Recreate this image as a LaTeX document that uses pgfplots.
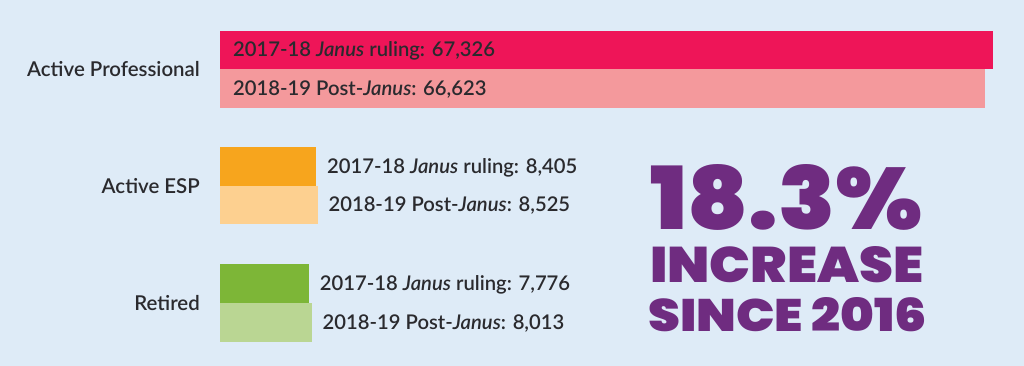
\documentclass[border=0pt]{standalone}
\usepackage{pgfplots}
\pgfplotsset{compat=1.18}
\usepackage{fontspec}
\IfFontExistsTF{Lato Semibold}{%
  \IfFontExistsTF{Lato Semibold Italic}{%
    \setmainfont{Lato Semibold}[ItalicFont={Lato Semibold Italic}]}{%
    \setmainfont{Lato Semibold}}}{%
  \setmainfont{Lato}[FakeBold=0.5]}
\newfontfamily\heavy{Poppins}[UprightFont=* Black]
\definecolor{bg}{HTML}{DEEBF7}
\definecolor{apA}{HTML}{EE1558}
\definecolor{apB}{HTML}{F4999C}
\definecolor{espA}{HTML}{F7A51D}
\definecolor{espB}{HTML}{FDD090}
\definecolor{retA}{HTML}{7DB637}
\definecolor{retB}{HTML}{BAD693}
\definecolor{purp}{HTML}{6F2C80}
\definecolor{txt}{HTML}{2A2A2E}
\begin{document}
\begin{tikzpicture}
\begin{axis}[
  width=1024bp, height=366bp, scale only axis,
  xmin=-19160, xmax=70025, ymin=0, ymax=366, y dir=reverse,
  axis line style={draw=none}, xtick=\empty, ytick=\empty,
  axis background/.style={fill=bg},
  clip=false,
  every node near coord/.style={anchor=base west, inner sep=0pt, xshift=10.5bp, yshift=-7bp, font=\fontsize{20.3}{22}\selectfont, text=txt},
]
\addplot[xbar, bar shift=0pt, bar width=38.5, fill=apA, draw=none] coordinates {(67326,50)};
\addplot[xbar, bar shift=0pt, bar width=38.5, fill=apB, draw=none] coordinates {(66623,88.5)};
\addplot[xbar, bar shift=0pt, bar width=38.5, fill=espA, draw=none, nodes near coords={2017-18 \textit{Janus} ruling: 8,405}] coordinates {(8405,166.5)};
\addplot[xbar, bar shift=0pt, bar width=38.5, fill=espB, draw=none, nodes near coords={2018-19 Post-\textit{Janus}: 8,525}] coordinates {(8525,205)};
\addplot[xbar, bar shift=0pt, bar width=38.5, fill=retA, draw=none, nodes near coords={2017-18 \textit{Janus} ruling: 7,776}] coordinates {(7776,283.5)};
\addplot[xbar, bar shift=0pt, bar width=38.5, fill=retB, draw=none, nodes near coords={2018-19 Post-\textit{Janus}: 8,013}] coordinates {(8013,322.5)};
\node[anchor=base west, inner sep=0pt, font=\fontsize{20.3}{22}\selectfont, text=txt] at (axis cs:0,50) [xshift=13bp, yshift=-7bp] {2017-18 \textit{Janus} ruling: 67,326};
\node[anchor=base west, inner sep=0pt, font=\fontsize{20.3}{22}\selectfont, text=txt] at (axis cs:0,88.5) [xshift=13bp, yshift=-7bp] {2018-19 Post-\textit{Janus}: 66,623};
\node[anchor=base east, inner sep=0pt, font=\fontsize{20.5}{22}\selectfont, text=txt] at (axis cs:0,69.5) [xshift=-20bp, yshift=-7bp] {Active Professional};
\node[anchor=base east, inner sep=0pt, font=\fontsize{20.5}{22}\selectfont, text=txt] at (axis cs:0,186) [xshift=-20bp, yshift=-7bp] {Active ESP};
\node[anchor=base east, inner sep=0pt, font=\fontsize{20.5}{22}\selectfont, text=txt] at (axis cs:0,303) [xshift=-20bp, yshift=-7bp] {Retired};
\end{axis}
\node[anchor=base west, inner sep=0pt, text=purp] at ([xshift=650bp, yshift=-230bp]current axis.north west) {\resizebox{272bp}{65bp}{\heavy 18.3\%}};
\node[anchor=base west, inner sep=0pt, text=purp] at ([xshift=650bp, yshift=-283bp]current axis.north west) {\resizebox{273bp}{36bp}{\heavy INCREASE}};
\node[anchor=base west, inner sep=0pt, text=purp] at ([xshift=648bp, yshift=-332bp]current axis.north west) {\resizebox{279bp}{34bp}{\heavy SINCE 2016}};
\end{tikzpicture}
\end{document}
